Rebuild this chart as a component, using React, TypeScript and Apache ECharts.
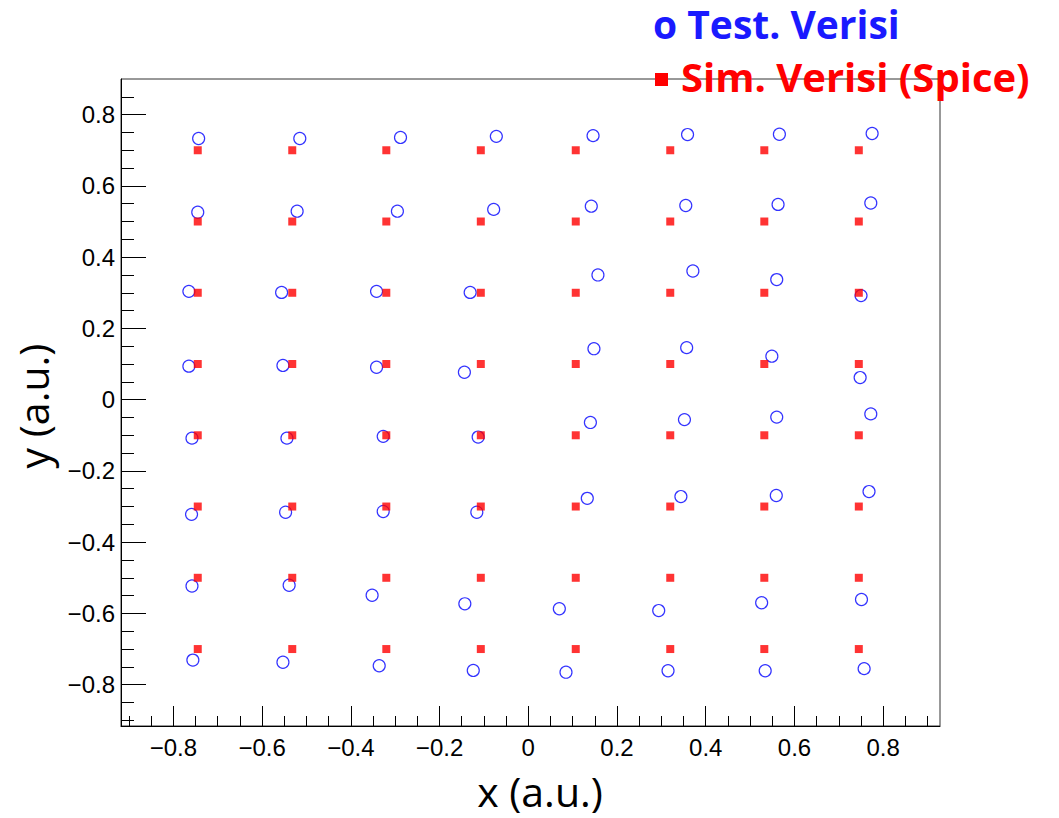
import React, { useEffect, useRef } from "react";
import * as echarts from "echarts";

// Simulation grid (Spice)
const simXs = [-0.745, -0.532, -0.32, -0.107, 0.107, 0.32, 0.532, 0.745];
const simYs = [0.7, 0.5, 0.3, 0.1, -0.1, -0.3, -0.5, -0.7];

// Test measurements (row by row, from top row to bottom row)
const testX = [
  -0.743, -0.515, -0.288, -0.072, 0.146, 0.359, 0.566, 0.775,
  -0.745, -0.521, -0.295, -0.078, 0.142, 0.355, 0.563, 0.772,
  -0.765, -0.556, -0.342, -0.131, 0.157, 0.371, 0.56, 0.75,
  -0.765, -0.553, -0.342, -0.144, 0.148, 0.357, 0.549, 0.748,
  -0.758, -0.544, -0.327, -0.113, 0.14, 0.352, 0.56, 0.772,
  -0.759, -0.547, -0.327, -0.116, 0.133, 0.344, 0.559, 0.768,
  -0.758, -0.539, -0.352, -0.143, 0.07, 0.294, 0.526, 0.751,
  -0.756, -0.553, -0.336, -0.124, 0.085, 0.315, 0.534, 0.757,
];
const testY = [
  0.733, 0.733, 0.736, 0.739, 0.741, 0.744, 0.745, 0.747,
  0.526, 0.529, 0.529, 0.534, 0.543, 0.545, 0.548, 0.552,
  0.304, 0.301, 0.304, 0.301, 0.35, 0.361, 0.337, 0.292,
  0.094, 0.096, 0.091, 0.077, 0.143, 0.146, 0.122, 0.062,
  -0.108, -0.108, -0.103, -0.105, -0.064, -0.056, -0.049, -0.04,
  -0.322, -0.316, -0.314, -0.316, -0.277, -0.272, -0.269, -0.258,
  -0.523, -0.521, -0.549, -0.573, -0.587, -0.592, -0.57, -0.561,
  -0.731, -0.737, -0.747, -0.76, -0.765, -0.761, -0.761, -0.755,
];

const majorTicks = [-0.8, -0.6, -0.4, -0.2, 0, 0.2, 0.4, 0.6, 0.8];
const xMinorTicks = [
  -0.9, -0.85, -0.75, -0.7, -0.65, -0.55, -0.5, -0.45, -0.35, -0.3, -0.25,
  -0.15, -0.1, -0.05, 0.05, 0.1, 0.15, 0.25, 0.3, 0.35, 0.45, 0.5, 0.55, 0.65,
  0.7, 0.75, 0.85, 0.9,
];
const yMinorTicks = [
  -0.9, -0.85, -0.75, -0.7, -0.65, -0.55, -0.5, -0.45, -0.35, -0.3, -0.25,
  -0.15, -0.1, -0.05, 0.05, 0.1, 0.15, 0.25, 0.3, 0.35, 0.45, 0.5, 0.55, 0.65,
  0.7, 0.75, 0.85,
];

const xRange = [-0.918, 0.928];
const yRange = [-0.916, 0.9];

const legendTest = "o Test. Verisi";
const legendSim = "Sim. Verisi (Spice)";
const xTitle = "x (a.u.)";
const yTitle = "y (a.u.)";

const fmt = (v: number) => {
  const s = Math.abs(v) < 1e-9 ? "0" : v.toFixed(1);
  return s.replace("-", "\u2212");
};

export default function App() {
  const ref = useRef<HTMLDivElement>(null);
  useEffect(() => {
    if (!ref.current) return;
    const chart = echarts.init(ref.current, null, { renderer: "svg" });
    const testData = testX.map((x, i) => [x, testY[i]]);
    const simData: number[][] = [];
    simYs.forEach((y) => simXs.forEach((x) => simData.push([x, y])));

    const labelFont = {
      fontFamily: "Liberation Sans, Arial, sans-serif",
      fontSize: 24,
      color: "#000",
    };

    chart.setOption({
      animation: false,
      backgroundColor: "#fff",
      grid: {
        left: 121,
        top: 79,
        width: 819,
        height: 647,
        show: true,
        borderColor: "#333",
        borderWidth: 1,
        backgroundColor: "transparent",
      },
      xAxis: [
        {
          type: "value",
          min: xRange[0],
          max: xRange[1],
          position: "bottom",
          splitLine: { show: false },
          axisLine: { show: true, onZero: false, lineStyle: { color: "#000", width: 1 } },
          axisTick: {
            show: true,
            inside: true,
            length: 20,
            customValues: majorTicks,
            lineStyle: { color: "#000", width: 1 },
          },
          axisLabel: {
            show: true,
            customValues: majorTicks,
            margin: 9,
            formatter: fmt,
            ...labelFont,
          },
        },
        {
          type: "value",
          min: xRange[0],
          max: xRange[1],
          position: "bottom",
          splitLine: { show: false },
          axisLine: { show: false, onZero: false },
          axisTick: {
            show: true,
            inside: true,
            length: 10,
            customValues: xMinorTicks,
            lineStyle: { color: "#000", width: 1 },
          },
          axisLabel: { show: false },
        },
      ],
      yAxis: [
        {
          type: "value",
          min: yRange[0],
          max: yRange[1],
          position: "left",
          splitLine: { show: false },
          axisLine: { show: true, onZero: false, lineStyle: { color: "#000", width: 1 } },
          axisTick: {
            show: true,
            inside: true,
            length: 25,
            customValues: majorTicks,
            lineStyle: { color: "#000", width: 1 },
          },
          axisLabel: {
            show: true,
            customValues: majorTicks,
            margin: 6,
            formatter: fmt,
            ...labelFont,
          },
        },
        {
          type: "value",
          min: yRange[0],
          max: yRange[1],
          position: "left",
          splitLine: { show: false },
          axisLine: { show: false, onZero: false },
          axisTick: {
            show: true,
            inside: true,
            length: 13,
            customValues: yMinorTicks,
            lineStyle: { color: "#000", width: 1 },
          },
          axisLabel: { show: false },
        },
      ],
      series: [
        {
          name: legendTest,
          type: "scatter",
          xAxisIndex: 0,
          yAxisIndex: 0,
          data: testData,
          symbol: "circle",
          symbolSize: 12,
          itemStyle: { color: "transparent", borderColor: "#0000ff", borderWidth: 1.2 },
          z: 2,
        },
        {
          name: legendSim,
          type: "scatter",
          xAxisIndex: 0,
          yAxisIndex: 0,
          data: simData,
          symbol: "rect",
          symbolSize: 8,
          itemStyle: { color: "#ff0000" },
          z: 3,
        },
      ],
      graphic: [
        {
          type: "text",
          x: 653,
          y: 23,
          z: 100,
          style: {
            text: legendTest,
            fill: "#1a1aff",
            font: "bold 39px 'Open Sans', 'Noto Sans', sans-serif",
            lineHeight: 39,
            align: "left",
            verticalAlign: "middle",
          },
        },
        {
          type: "rect",
          z: 100,
          shape: { x: 655, y: 73, width: 13, height: 13 },
          style: { fill: "#ff0000" },
        },
        {
          type: "text",
          x: 681,
          y: 76,
          z: 100,
          style: {
            text: legendSim,
            fill: "#ff0000",
            font: "bold 40px 'Open Sans', 'Noto Sans', sans-serif",
            lineHeight: 40,
            align: "left",
            verticalAlign: "middle",
          },
        },
        {
          type: "text",
          x: 540,
          y: 791,
          z: 100,
          style: {
            text: xTitle,
            fill: "#000",
            font: "41px 'Open Sans', 'Noto Sans', sans-serif",
            lineHeight: 41,
            align: "center",
            verticalAlign: "middle",
          },
        },
        {
          type: "text",
          x: 33,
          y: 406,
          rotation: Math.PI / 2,
          z: 100,
          style: {
            text: yTitle,
            fill: "#000",
            font: "41px 'Open Sans', 'Noto Sans', sans-serif",
            lineHeight: 41,
            align: "center",
            verticalAlign: "middle",
          },
        },
      ],
    });
    return () => chart.dispose();
  }, []);
  return (
    <div
      ref={ref}
      style={{ position: "fixed", left: 0, top: 0, width: 1059, height: 818 }}
    />
  );
}
